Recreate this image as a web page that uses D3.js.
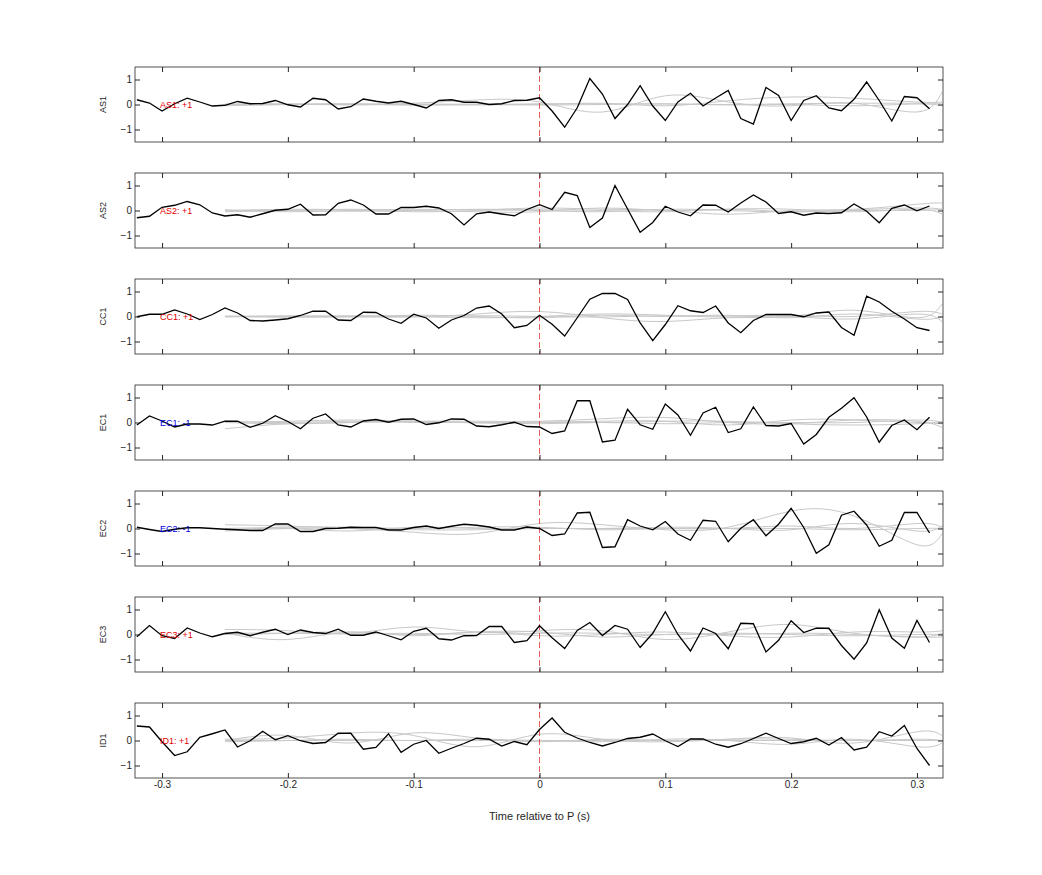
<!DOCTYPE html>
<html><head><meta charset="utf-8">
<script src="https://cdn.jsdelivr.net/npm/d3@7"></script>
<style>body{margin:0;background:#fff;font-family:"Liberation Sans",Arial,sans-serif}</style>
</head><body><svg id="c" width="1042" height="875"></svg>
<script>
const channels = ["AS1","AS2","CC1","EC1","EC2","EC3","ID1"];
const polarity = ["+1","+1","+1","-1","-1","+1","+1"];
const xTicks = [-0.3,-0.2,-0.1,0,0.1,0.2,0.3];
const xTickLabels = ["-0.3","-0.2","-0.1","0","0.1","0.2","0.3"];
const yTicks = [-1,0,1];
const tStart = -0.32, tStep = 0.01;
const AS1 = [0.19,0.06,-0.26,0.03,0.25,0.10,-0.06,-0.03,0.12,0.03,0.04,0.16,-0.01,-0.10,0.25,0.19,-0.18,-0.09,0.22,0.13,0.06,0.13,0.0,-0.14,0.16,0.19,0.09,0.09,0.0,0.03,0.16,0.17,0.27,-0.26,-0.91,-0.13,1.04,0.42,-0.56,0.0,0.75,-0.06,-0.64,0.10,0.45,-0.06,0.26,0.56,-0.56,-0.78,0.68,0.36,-0.64,0.16,0.35,-0.14,-0.25,0.21,0.90,0.16,-0.66,0.32,0.27,-0.17];
const AS2 = [-0.29,-0.23,0.13,0.21,0.36,0.23,-0.10,-0.22,-0.17,-0.27,-0.13,0.01,0.05,0.25,-0.18,-0.17,0.29,0.42,0.22,-0.14,-0.14,0.12,0.12,0.17,0.10,-0.13,-0.58,-0.13,-0.06,-0.14,-0.21,0.04,0.23,0.04,0.73,0.60,-0.68,-0.30,1.0,0.06,-0.87,-0.48,0.17,-0.06,-0.21,0.22,0.21,-0.06,0.30,0.62,0.34,-0.12,-0.05,-0.19,-0.10,-0.12,-0.09,0.26,-0.03,-0.49,0.09,0.22,-0.01,0.18];
const CC1 = [-0.01,0.09,0.09,0.26,0.10,-0.12,0.08,0.34,0.14,-0.16,-0.18,-0.14,-0.09,0.04,0.21,0.21,-0.14,-0.16,0.17,0.16,-0.10,-0.27,0.09,-0.06,-0.47,-0.14,0.04,0.34,0.42,0.10,-0.45,-0.36,0.05,-0.31,-0.78,-0.05,0.69,0.92,0.92,0.68,-0.26,-0.97,-0.32,0.43,0.23,0.16,0.42,-0.26,-0.65,-0.16,0.08,0.08,0.08,-0.01,0.14,0.18,-0.44,-0.75,0.81,0.58,0.21,-0.10,-0.45,-0.56];
const EC1 = [-0.10,0.26,0.06,-0.18,-0.06,-0.06,-0.10,0.05,0.05,-0.19,-0.03,0.27,0.04,-0.25,0.17,0.34,-0.10,-0.18,0.06,0.12,0.01,0.13,0.14,-0.08,-0.01,0.14,0.13,-0.14,-0.17,-0.09,0.01,-0.16,-0.18,-0.44,-0.34,0.87,0.87,-0.78,-0.71,0.53,-0.09,-0.27,0.74,0.30,-0.51,0.38,0.61,-0.40,-0.25,0.62,-0.12,-0.14,-0.04,-0.86,-0.48,0.21,0.57,0.99,0.22,-0.79,-0.12,0.10,-0.29,0.21];
const EC2 = [0.05,-0.04,-0.12,-0.03,0.03,0.03,0,-0.03,-0.05,-0.08,-0.08,0.18,0.18,-0.12,-0.12,0,0.01,0.05,0.04,0.04,-0.06,-0.06,0.04,0.10,0,0.09,0.17,0.13,0.06,-0.06,-0.06,0.06,0,-0.28,-0.22,0.62,0.65,-0.76,-0.73,0.35,0.10,-0.05,0.28,-0.22,-0.47,0.33,0.29,-0.53,0.01,0.35,-0.29,0.17,0.81,0.04,-0.99,-0.65,0.53,0.69,0.14,-0.71,-0.47,0.64,0.64,-0.18];
const EC3 = [-0.09,0.36,-0.05,-0.16,0.26,0.06,-0.09,0.04,0.09,-0.05,0.09,0.21,0,0.18,0.08,0.04,0.21,-0.03,-0.03,0.10,-0.05,-0.21,0.13,0.25,-0.17,-0.22,-0.05,-0.04,0.32,0.32,-0.32,-0.25,0.35,-0.13,-0.56,0.16,0.48,-0.04,0.36,0.21,-0.52,0.05,0.91,0,-0.66,0.26,0.04,-0.57,0.45,0.43,-0.70,-0.23,0.55,0.08,0.25,0.25,-0.44,-0.99,-0.34,0.99,-0.14,-0.55,0.56,-0.32];
const ID1 = [0.58,0.54,-0.05,-0.60,-0.45,0.13,0.27,0.42,-0.26,-0.01,0.37,0.03,0.19,-0.01,-0.12,-0.08,0.29,0.29,-0.35,-0.28,0.27,-0.47,-0.15,0,-0.51,-0.31,-0.12,0.09,0.05,-0.22,-0.04,-0.17,0.44,0.90,0.33,0.10,-0.08,-0.22,-0.08,0.08,0.13,0.26,-0.01,-0.24,0.06,0.06,-0.15,-0.27,-0.13,0.08,0.29,0.08,-0.12,-0.05,0.09,-0.18,0.12,-0.38,-0.27,0.35,0.18,0.60,-0.32,-1.0];
const series = [AS1,AS2,CC1,EC1,EC2,EC3,ID1];
// gray reference curves: values at these times
const grayT = [-0.25,-0.2,-0.15,-0.1,-0.05,0,0.05,0.1,0.15,0.2,0.25,0.3,0.32];
const grayAS1 = [[0,0.02,-0.02,0.05,0.18,0.1,-0.3,0.35,0.1,-0.05,0.05,-0.3,0.5],[0,0.0,0.02,-0.03,0.02,0,0.05,-0.05,0.15,0.3,0.25,0.1,0.1],[-0.05,0,0.03,0,-0.02,0.03,0.02,0.02,0,0.03,0.05,0.05,0.05],[0.02,0.02,0,0.02,0,-0.02,0,0.03,-0.02,0,-0.05,0.02,-0.05]];
const grayAS2 = [[0,0.05,0.02,-0.05,0,0.1,0.05,0,-0.15,0,0.05,0.25,0.3],[-0.05,0,0.05,0,-0.05,-0.05,0.1,0,0.05,0.05,-0.05,0.05,-0.15],[0.03,-0.05,0,0.05,0.02,0,-0.05,0.05,0,-0.05,0,0,0.05],[-0.02,0,-0.03,0,0.05,0.03,0,-0.05,0.05,-0.05,0.02,0.1,0.05]];
const grayCC1 = [[0,0.02,0,-0.02,0.1,0.2,-0.05,-0.2,-0.05,0,0.25,-0.05,0.5],[0.02,0,0.03,0,-0.05,0,0.1,0.05,-0.02,0,-0.1,0.1,-0.2],[-0.02,0.02,0,0.05,0,-0.05,0.05,0,0.05,-0.05,0.1,-0.1,0],[0,-0.03,-0.02,0,0.03,0,-0.02,0.03,0.02,0.05,0,0.2,0.1]];
const grayEC1 = [[-0.25,-0.05,0,0.05,0.05,0.05,0.15,0.2,0,-0.05,0.1,0.05,-0.2],[0,0.05,0.1,0.05,0,0.02,0.05,0.05,-0.1,0.1,0.1,0,-0.05],[0,-0.05,0,0.05,-0.02,0,0,0.05,0.05,-0.05,-0.1,-0.05,0.05],[0.05,0,0.05,0,0,-0.05,0,-0.05,0,0,0,0.1,0]];
const grayEC2 = [[0.15,0.1,0,-0.15,-0.2,0.2,0.15,-0.05,0.05,0.7,0.5,-0.65,-0.2],[-0.05,0,-0.1,0.05,0,0,0,0,0,0.1,0,0.2,0.05],[0,0.05,0.05,0,0.05,0.05,-0.05,0,0,0,-0.05,0,0],[-0.1,0,0,-0.05,-0.05,0,0,0.05,0,-0.05,0.2,-0.1,0.1]];
const grayEC3 = [[0.2,0.15,0.05,0.3,0.1,0.15,0.15,-0.2,0.1,0.4,0.05,-0.1,-0.1],[0.05,-0.2,0.1,-0.05,0.1,-0.05,0,0.1,-0.05,-0.1,0.1,0.1,0.15],[0.05,0.05,0.02,0.05,0,0.05,0.05,0,0.05,0,-0.05,0,0],[0,0.05,0.1,0,0.1,0.1,-0.1,0,0,0.05,0,-0.1,0.05]];
const grayID1 = [[0.05,0.1,0.3,0.2,-0.25,0.25,0.05,-0.05,0.05,0.1,-0.1,0.35,0.2],[0,0.2,-0.1,0.3,0.1,0,-0.05,0.05,0,-0.15,0.05,-0.25,-0.1],[-0.05,0,0.05,0,0.05,-0.05,0.05,0,0.05,0.05,0,0.05,0],[0,0,0,0,0,0,0,0,0,0,0,0,0]];
const grays = [grayAS1,grayAS2,grayCC1,grayEC1,grayEC2,grayEC3,grayID1];

const svg = d3.select("#c");
const left = 135, right = 943, ph = 75, gap = 106, top0 = 67;
const x = d3.scaleLinear().domain([-0.3215,0.3207]).range([left,right]);
channels.forEach((ch,i)=>{
  const top = top0 + i*gap;
  const y = d3.scaleLinear().domain([-1.5,1.5]).range([top+ph, top]);
  const g = svg.append("g");
  g.append("rect").attr("x",left).attr("y",top).attr("width",right-left).attr("height",ph).attr("fill","#fff");
  const clipId = "cl"+i;
  svg.append("clipPath").attr("id",clipId).append("rect").attr("x",left).attr("y",top).attr("width",right-left).attr("height",ph);
  const gc = g.append("g").attr("clip-path",`url(#${clipId})`);
  const gl = d3.line().x((d,j)=>x(grayT[j])).y(d=>y(d)).curve(d3.curveNatural);
  grays[i].forEach(arr=>{
    gc.append("path").attr("d",gl(arr)).attr("fill","none").attr("stroke","#c8c8c8").attr("stroke-width",1);
  });
  gc.append("line").attr("x1",x(0)).attr("x2",x(0)).attr("y1",top).attr("y2",top+ph)
    .attr("stroke","#e03030").attr("stroke-width",0.8).attr("stroke-dasharray","6,3");
  const bl = d3.line().x((d,j)=>x(tStart+j*tStep)).y(d=>y(d));
  gc.append("path").attr("d",bl(series[i])).attr("fill","none").attr("stroke","#000").attr("stroke-width",1.3);
  // axes
  const xa = d3.axisBottom(x).tickValues(xTicks).tickSize(-5).tickFormat((d,k)=> i===6 ? xTickLabels[k] : "");
  const xat = d3.axisTop(x).tickValues(xTicks).tickSize(-5).tickFormat("");
  const ya = d3.axisLeft(y).tickValues(yTicks).tickSize(-5).tickFormat(d3.format("d"));
  const yar = d3.axisRight(y).tickValues(yTicks).tickSize(-5).tickFormat("");
  [g.append("g").attr("transform",`translate(0,${top+ph})`).call(xa),
   g.append("g").attr("transform",`translate(0,${top})`).call(xat),
   g.append("g").attr("transform",`translate(${left},0)`).call(ya),
   g.append("g").attr("transform",`translate(${right},0)`).call(yar)].forEach(a=>{
     a.select(".domain").remove();
     a.selectAll("line").attr("stroke","#262626");
     a.selectAll("text").attr("font-size",10).attr("fill","#262626").attr("font-family","Liberation Sans, Arial");
   });
  g.selectAll("g").filter(function(){return true;}).selectAll(".tick text");
  g.append("rect").attr("x",left).attr("y",top).attr("width",right-left).attr("height",ph)
    .attr("fill","none").attr("stroke","#262626").attr("stroke-width",0.8);
  g.append("text").attr("transform",`translate(106,${top+ph/2}) rotate(-90)`).attr("text-anchor","middle")
    .attr("font-size",9).attr("fill","#262626").text(ch);
  g.append("text").attr("x",x(-0.3)-2).attr("y",y(0)+3).attr("font-size",9)
    .attr("fill", polarity[i]==="-1" ? "#0000e0" : "#e00000").text(ch+": "+polarity[i]);
});
svg.append("text").attr("x",x(0)).attr("y",820).attr("text-anchor","middle").attr("font-size",11)
  .attr("fill","#262626").text("Time relative to P (s)");
</script></body></html>
